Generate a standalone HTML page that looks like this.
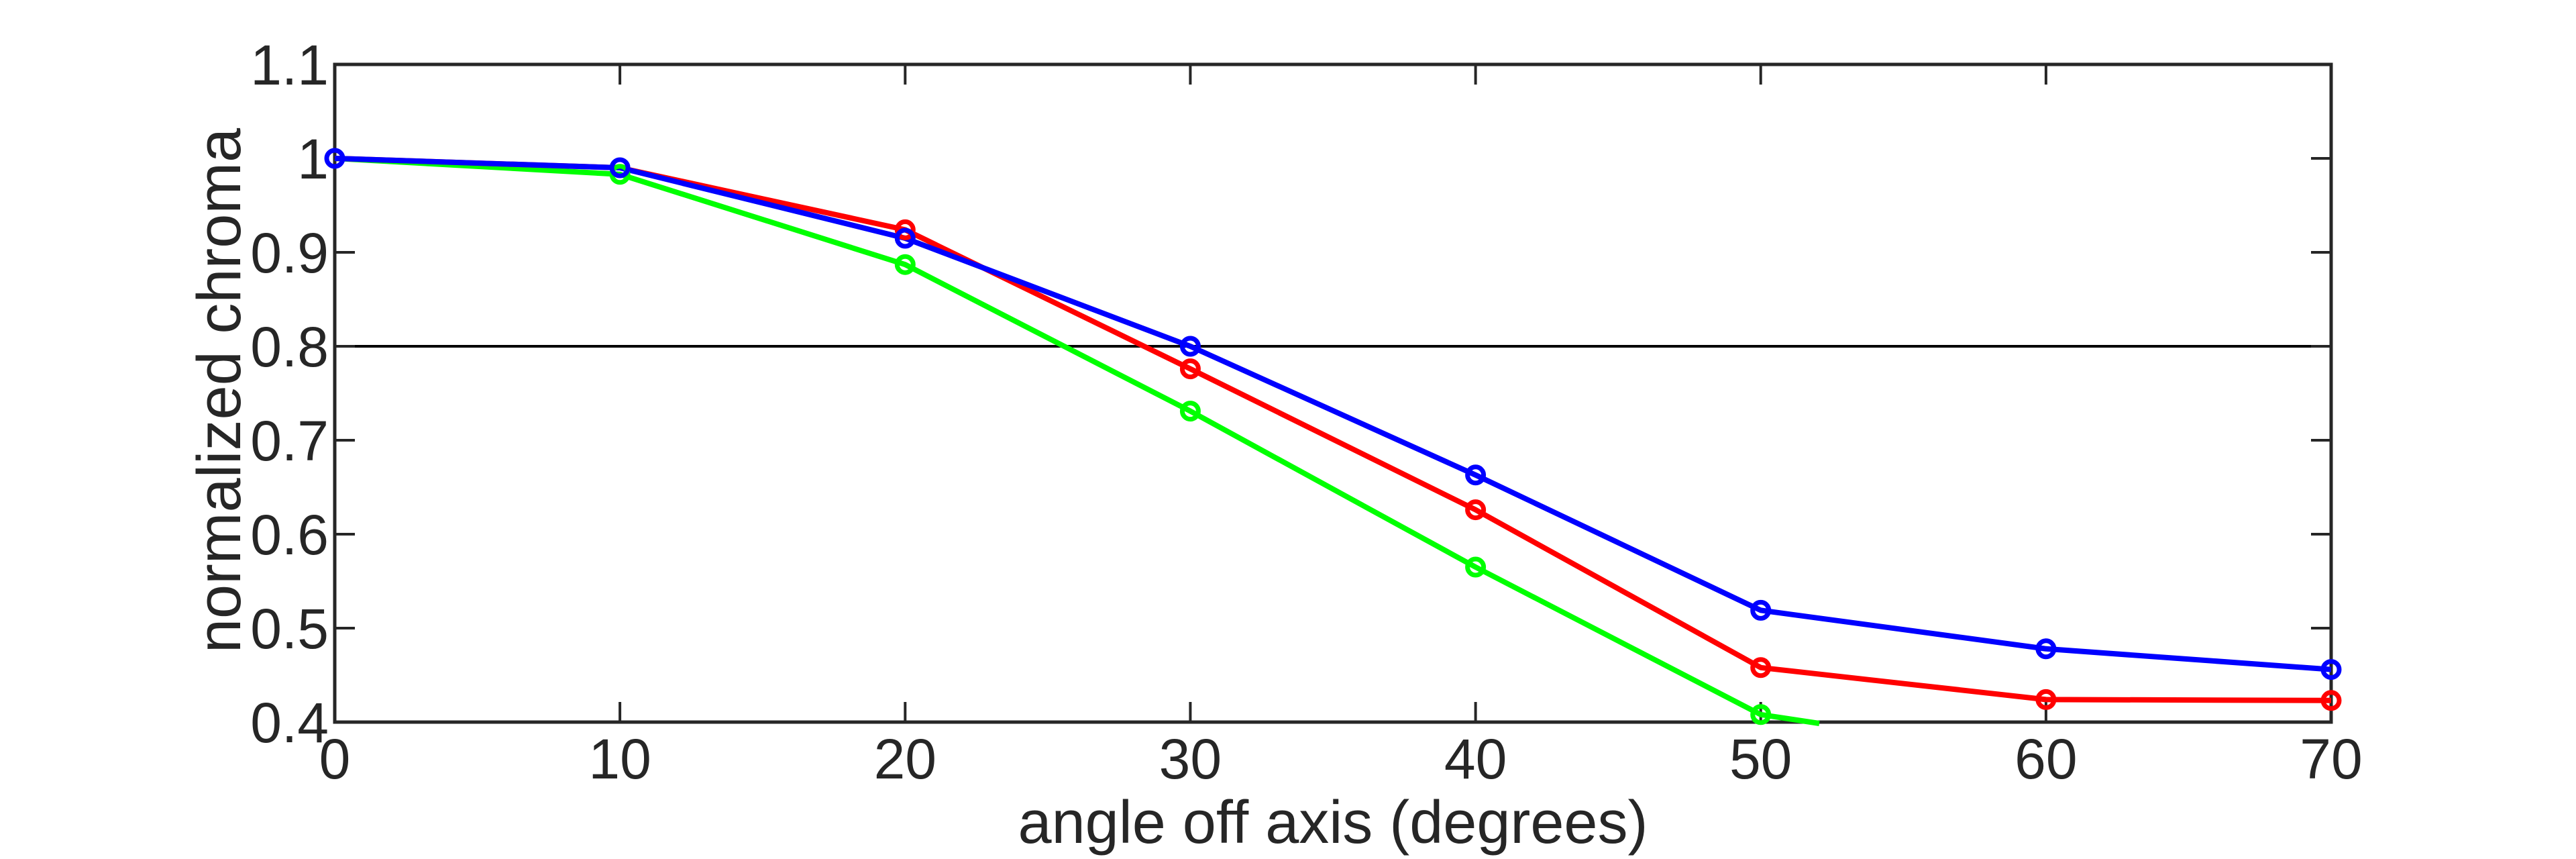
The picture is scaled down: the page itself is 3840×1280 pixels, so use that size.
<!DOCTYPE html>
<html><head><meta charset="utf-8"><style>
html,body{margin:0;padding:0;background:#fff;}
svg{display:block;}
text{font-family:"Liberation Sans",Arial,sans-serif;fill:#262626;}
</style></head><body>
<svg width="3840" height="1280" viewBox="0 0 3840 1280" xmlns="http://www.w3.org/2000/svg">
<rect width="3840" height="1280" fill="#fff"/>
<line x1="499" y1="516" x2="3475" y2="516" stroke="#000" stroke-width="4"/>
<rect x="499" y="96" width="2976" height="980" fill="none" stroke="#262626" stroke-width="5"/>
<g stroke="#262626" stroke-width="4">
<line x1="924.1" y1="1076" x2="924.1" y2="1046"/><line x1="924.1" y1="96" x2="924.1" y2="126"/>
<line x1="1349.3" y1="1076" x2="1349.3" y2="1046"/><line x1="1349.3" y1="96" x2="1349.3" y2="126"/>
<line x1="1774.4" y1="1076" x2="1774.4" y2="1046"/><line x1="1774.4" y1="96" x2="1774.4" y2="126"/>
<line x1="2199.6" y1="1076" x2="2199.6" y2="1046"/><line x1="2199.6" y1="96" x2="2199.6" y2="126"/>
<line x1="2624.7" y1="1076" x2="2624.7" y2="1046"/><line x1="2624.7" y1="96" x2="2624.7" y2="126"/>
<line x1="3049.9" y1="1076" x2="3049.9" y2="1046"/><line x1="3049.9" y1="96" x2="3049.9" y2="126"/>
<line x1="499" y1="236" x2="529" y2="236"/><line x1="3475" y1="236" x2="3445" y2="236"/>
<line x1="499" y1="376" x2="529" y2="376"/><line x1="3475" y1="376" x2="3445" y2="376"/>
<line x1="499" y1="516" x2="529" y2="516"/><line x1="3475" y1="516" x2="3445" y2="516"/>
<line x1="499" y1="656" x2="529" y2="656"/><line x1="3475" y1="656" x2="3445" y2="656"/>
<line x1="499" y1="796" x2="529" y2="796"/><line x1="3475" y1="796" x2="3445" y2="796"/>
<line x1="499" y1="936" x2="529" y2="936"/><line x1="3475" y1="936" x2="3445" y2="936"/>
</g>
<g font-size="84" text-anchor="middle">
<text x="499" y="1160">0</text>
<text x="924.1" y="1160">10</text>
<text x="1349.3" y="1160">20</text>
<text x="1774.4" y="1160">30</text>
<text x="2199.6" y="1160">40</text>
<text x="2624.7" y="1160">50</text>
<text x="3049.9" y="1160">60</text>
<text x="3475" y="1160">70</text>
</g>
<g font-size="84" text-anchor="end">
<text x="490" y="126">1.1</text>
<text x="490" y="266">1</text>
<text x="490" y="406">0.9</text>
<text x="490" y="546">0.8</text>
<text x="490" y="686">0.7</text>
<text x="490" y="826">0.6</text>
<text x="490" y="966">0.5</text>
<text x="490" y="1106">0.4</text>
</g>
<text x="1987" y="1256" font-size="90" text-anchor="middle">angle off axis (degrees)</text>
<text transform="translate(358,582) rotate(-90)" font-size="92" text-anchor="middle">normalized chroma</text>
<g fill="none" stroke-width="8" stroke-linejoin="round">
<polyline stroke="#00ff00" points="499,236 924.1,259.8 1349.3,394.2 1774.4,612.6 2199.6,845 2624.7,1064.8 2712,1078"/>
<polyline stroke="#ff0000" points="499,236 924.1,250 1349.3,342.4 1774.4,549.6 2199.6,759.6 2624.7,994.8 3049.9,1042.4 3475,1043.8"/>
<polyline stroke="#0000ff" points="499,236 924.1,250 1349.3,355 1774.4,516 2199.6,707.8 2624.7,909.4 3049.9,966.8 3475,997.6"/>
</g>
<g fill="none" stroke-width="7">
<g stroke="#00ff00">
<circle cx="924.1" cy="259.8" r="12"/><circle cx="1349.3" cy="394.2" r="12"/><circle cx="1774.4" cy="612.6" r="12"/><circle cx="2199.6" cy="845" r="12"/><circle cx="2624.7" cy="1064.8" r="12"/>
</g>
<g stroke="#ff0000">
<circle cx="1349.3" cy="342.4" r="12"/><circle cx="1774.4" cy="549.6" r="12"/><circle cx="2199.6" cy="759.6" r="12"/><circle cx="2624.7" cy="994.8" r="12"/><circle cx="3049.9" cy="1042.4" r="12"/><circle cx="3475" cy="1043.8" r="12"/>
</g>
<g stroke="#0000ff">
<circle cx="499" cy="236" r="12"/><circle cx="924.1" cy="250" r="12"/><circle cx="1349.3" cy="355" r="12"/><circle cx="1774.4" cy="516" r="12"/><circle cx="2199.6" cy="707.8" r="12"/><circle cx="2624.7" cy="909.4" r="12"/><circle cx="3049.9" cy="966.8" r="12"/><circle cx="3475" cy="997.6" r="12"/>
</g>
</g>
</svg>
</body></html>
